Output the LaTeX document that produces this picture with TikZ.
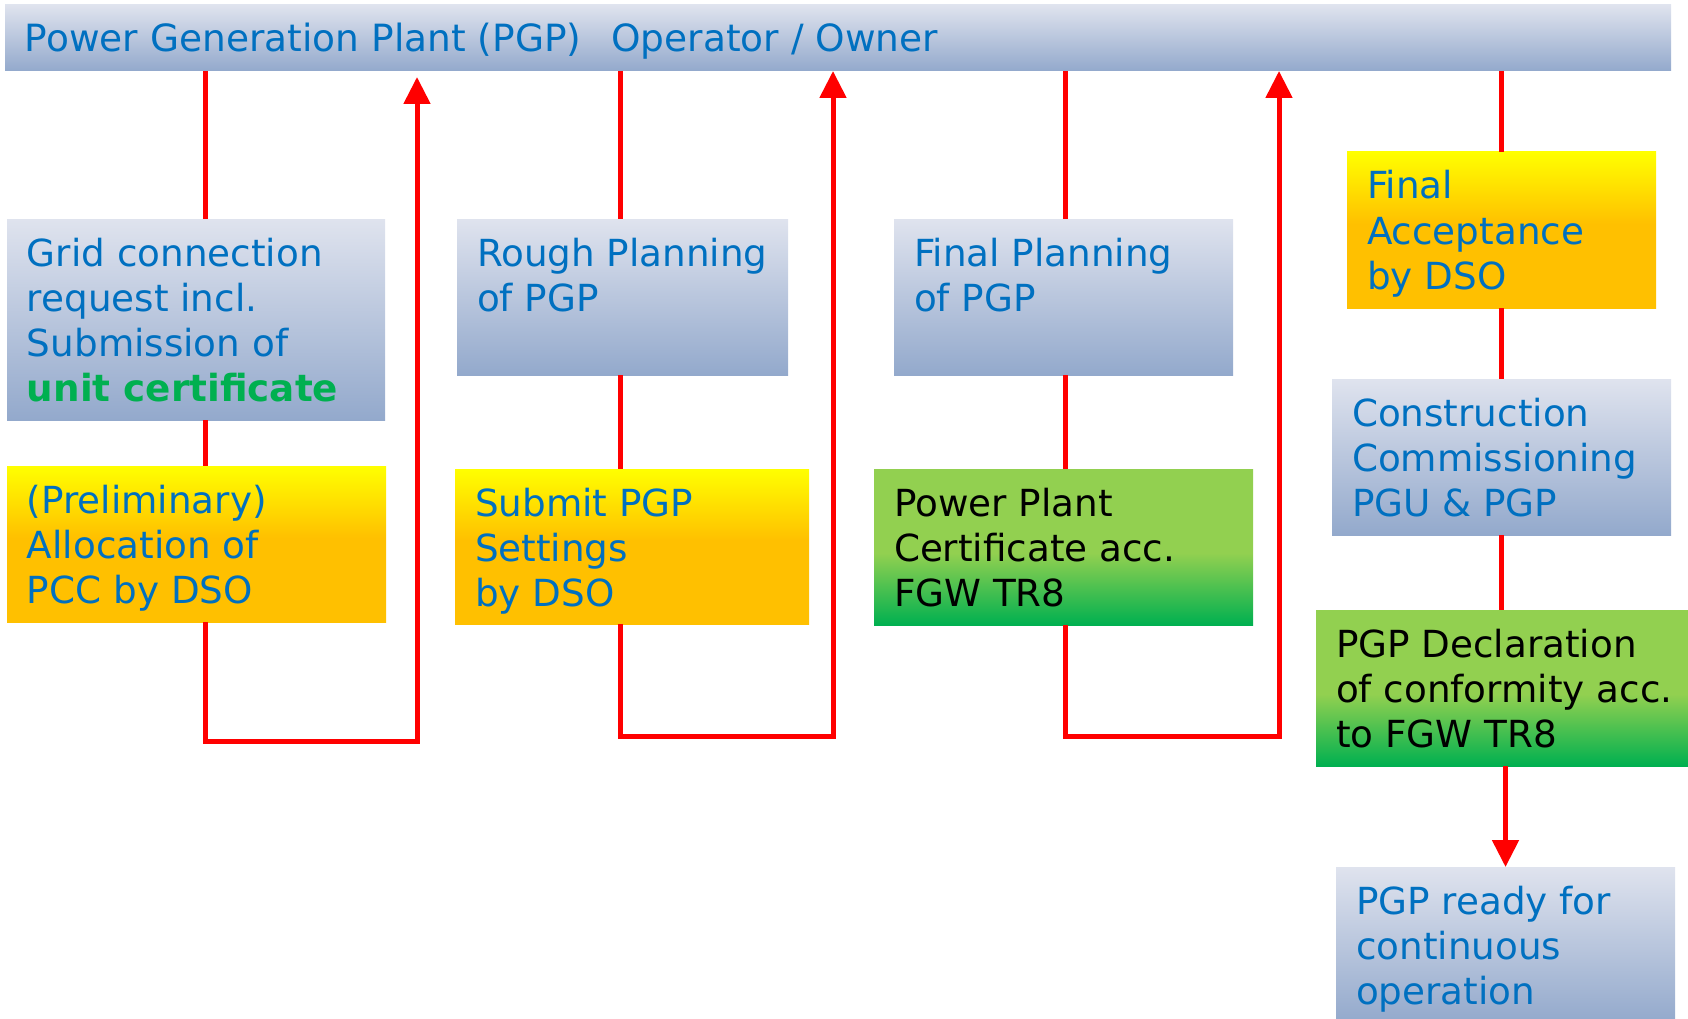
\documentclass[tikz,border=0pt]{standalone}
\usepackage{fontspec}
\setmainfont{DejaVu Sans}
\usetikzlibrary{arrows.meta}

\definecolor{txtblue}{HTML}{0070C0}
\definecolor{bluetop}{HTML}{DFE3EE}
\definecolor{bluebot}{HTML}{93A9CC}
\definecolor{yllw}{HTML}{FFFF00}
\definecolor{orng}{HTML}{FFC000}
\definecolor{lgreen}{HTML}{92D050}
\definecolor{dgreen}{HTML}{00B050}

\pgfdeclareverticalshading{yelloworange}{100bp}{color(0bp)=(orng); color(25bp)=(orng); color(52bp)=(orng); color(75bp)=(yllw); color(100bp)=(yllw)}
\pgfdeclareverticalshading{greenfade}{100bp}{color(0bp)=(dgreen); color(25bp)=(dgreen); color(48bp)=(lgreen); color(75bp)=(lgreen); color(100bp)=(lgreen)}

% box of width #1 and height #2, text lines #3 from the top left
\newcommand{\boxtext}[3]{\parbox[t][#2][t]{#1}{\hspace*{20pt}\begin{tabular}[t]{@{}l@{}}\rule{0pt}{47pt}#3\end{tabular}}}

\tikzset{
  stepbox/.style={anchor=north west, inner sep=0pt, outer sep=0pt, text=txtblue, font=\fontsize{37.3}{45}\selectfont},
  bluebox/.style={stepbox, top color=bluetop, bottom color=bluebot},
  dsobox/.style={stepbox, shading=yelloworange},
  certbox/.style={stepbox, shading=greenfade, text=black},
  flow/.style={draw=red, line width=5pt},
}

\begin{document}
\begin{tikzpicture}[x=1pt, y=-1pt, >={Triangle[width=26pt,length=27pt]}]
    \useasboundingbox (0,0) rectangle (1688,1019);

    % 1. Operator bar
    \node[bluebox, font=\fontsize{37.5}{45}\selectfont] (owner) at (5,5)
        {\boxtext{1666pt}{66pt}{Power Generation Plant (PGP)\hspace*{30pt}Operator / Owner}};

    % 2. Steps
    \node[bluebox] (grid) at (7,219)
        {\boxtext{378pt}{201pt}{Grid connection\\request incl.\\Submission of\\\textcolor{dgreen}{\bfseries unit certificate}}};
    \node[dsobox] (prelim) at (7,466)
        {\boxtext{379pt}{156pt}{(Preliminary)\\Allocation of\\PCC by DSO}};
    \node[bluebox] (rough) at (457,219)
        {\boxtext{331pt}{156pt}{Rough Planning\\of PGP}};
    \node[dsobox] (settings) at (455,469)
        {\boxtext{354pt}{155pt}{Submit PGP\\Settings\\by DSO}};
    \node[bluebox] (final) at (894,219)
        {\boxtext{339pt}{156pt}{Final Planning\\of PGP}};
    \node[certbox] (cert) at (874,469)
        {\boxtext{379pt}{156pt}{Power Plant\\Certificate acc.\\FGW TR8}};
    \node[dsobox] (accept) at (1347,152)
        {\boxtext{309pt}{156pt}{Final\\Acceptance\\by DSO}};
    \node[bluebox] (build) at (1332,379)
        {\boxtext{339pt}{156pt}{Construction\\Commissioning\\PGU \& PGP}};
    \node[certbox] (decl) at (1316,610)
        {\boxtext{380pt}{156pt}{PGP Declaration\\of conformity acc.\\to FGW TR8}};
    \node[bluebox] (ready) at (1336,867)
        {\boxtext{339pt}{156pt}{PGP ready for\\continuous\\operation}};

    % 3. Loops back to the operator
    \coordinate (c1) at (205,0);
    \coordinate (c2) at (620,0);
    \coordinate (c3) at (1065,0);
    \coordinate (loop1) at (417,741);
    \coordinate (loop2) at (833,736);
    \coordinate (loop3) at (1279,736);

    \draw[flow] (owner.south -| c1) -- (grid.north -| c1);
    \draw[flow] (grid.south -| c1) -- (prelim.north -| c1);
    \draw[flow, ->, shorten >=6pt] (prelim.south -| c1) |- (loop1) -- (owner.south -| loop1);

    \draw[flow] (owner.south -| c2) -- (rough.north -| c2);
    \draw[flow] (rough.south -| c2) -- (settings.north -| c2);
    \draw[flow, ->] (settings.south -| c2) |- (loop2) -- (owner.south -| loop2);

    \draw[flow] (owner.south -| c3) -- (final.north -| c3);
    \draw[flow] (final.south -| c3) -- (cert.north -| c3);
    \draw[flow, ->] (cert.south -| c3) |- (loop3) -- (owner.south -| loop3);

    % 4. Last column
    \draw[flow] (owner.south -| accept.north) -- (accept.north);
    \draw[flow] (accept.south) -- (build.north);
    \draw[flow] (build.south) -- (decl.north -| build.south);
    \draw[flow, ->] (decl.south -| ready.north) -- (ready.north);
\end{tikzpicture}
\end{document}
